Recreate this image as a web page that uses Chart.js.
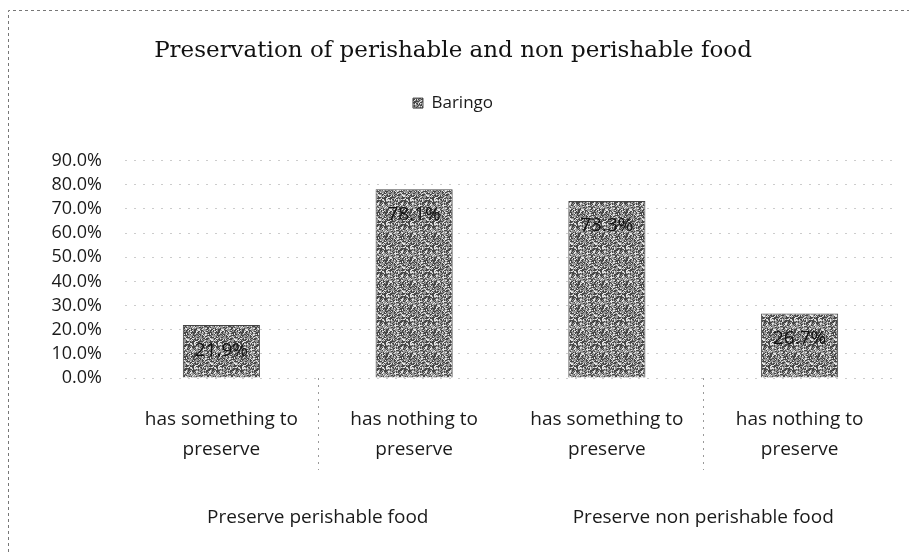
<!DOCTYPE html>
<html>
<head>
<meta charset="utf-8">
<script src="https://cdn.jsdelivr.net/npm/chart.js@4.4.1/dist/chart.umd.min.js"></script>
<style>
  html, body { margin: 0; padding: 0; background: #fff; }
  #wrap { width: 909px; height: 552px; position: relative; }
</style>
</head>
<body>
<div id="wrap"><canvas id="foodChart" width="909" height="552"></canvas></div>
<script>
// chart data
const categories = [
    ['has something to', 'preserve'],
    ['has nothing to', 'preserve'],
    ['has something to', 'preserve'],
    ['has nothing to', 'preserve']
];
const groups = ['Preserve perishable food', 'Preserve non perishable food'];
const groupSpan = [[0, 1], [2, 3]];          // first and last category index of each group
const baringo = [21.9, 78.1, 73.3, 26.7];      // percent
const yTicks = [0, 10, 20, 30, 40, 50, 60, 70, 80, 90];

const labelFont = '"Open Sans", "Liberation Sans", sans-serif';

// speckled grey fill for the bars
function makeSpeckle() {
    const c = document.createElement('canvas');
    c.width = 24; c.height = 24;
    const g = c.getContext('2d');
    const img = g.createImageData(24, 24);
    for (let y = 0; y < 24; y++) {
        for (let x = 0; x < 24; x++) {
            const h = Math.abs(Math.sin(x * 12.9898 + y * 78.233) * 43758.5453) % 1;
            let v = 150;
            if (h < 0.34) v = 70;
            else if (h > 0.76) v = 228;
            const i = (y * 24 + x) * 4;
            img.data[i] = img.data[i + 1] = img.data[i + 2] = v;
            img.data[i + 3] = 255;
        }
    }
    g.putImageData(img, 0, 0);
    return g.createPattern(c, 'repeat');
}

// extra room under the legend before the plot starts
const legendSpace = {
    id: 'legendSpace',
    afterInit(chart) {
        const legend = chart.legend;
        if (!legend) return;
        const fit = legend.fit;
        legend.fit = function () {
            fit.call(this);
            this.height += 39;
        };
    }
};

// value labels inside the top of each bar
const valueLabels = {
    id: 'valueLabels',
    afterDatasetsDraw(chart) {
        const ctx = chart.ctx;
        const meta = chart.getDatasetMeta(0);
        ctx.save();
        ctx.font = '19px ' + labelFont;
        ctx.fillStyle = '#111';
        ctx.textAlign = 'center';
        ctx.textBaseline = 'middle';
        meta.data.forEach((bar, i) => {
            ctx.fillText(baringo[i].toFixed(1) + '%', bar.x, bar.y + 25);
        });
        ctx.restore();
    }
};

// second level of the category axis plus the dotted separators
const groupAxis = {
    id: 'groupAxis',
    afterDraw(chart) {
        const ctx = chart.ctx;
        const x = chart.scales.x;
        const bottom = chart.chartArea.bottom;
        ctx.save();
        ctx.font = '19px ' + labelFont;
        ctx.fillStyle = '#1a1a1a';
        ctx.textAlign = 'center';
        ctx.textBaseline = 'middle';
        groups.forEach((name, gi) => {
            const [a, b] = groupSpan[gi];
            const cx = (x.getPixelForValue(a) + x.getPixelForValue(b)) / 2;
            ctx.fillText(name, cx, bottom + 140);
        });
        ctx.strokeStyle = '#9a9a9a';
        ctx.lineWidth = 1;
        ctx.setLineDash([2, 5]);
        groupSpan.forEach(([a, b]) => {
            const sx = Math.round((x.getPixelForValue(a) + x.getPixelForValue(b)) / 2) + 0.5;
            ctx.beginPath();
            ctx.moveTo(sx, bottom);
            ctx.lineTo(sx, bottom + 92);
            ctx.stroke();
        });
        // faint dotted frame along top and left edge
        ctx.strokeStyle = '#777';
        ctx.setLineDash([3, 3]);
        ctx.beginPath();
        ctx.moveTo(8.5, 552);
        ctx.lineTo(8.5, 10.5);
        ctx.lineTo(909, 10.5);
        ctx.stroke();
        ctx.restore();
    }
};

const ctx = document.getElementById('foodChart').getContext('2d');
const speckle = makeSpeckle();

new Chart(ctx, {
    type: 'bar',
    data: {
        labels: categories,
        datasets: [{
            label: 'Baringo',
            data: baringo,
            backgroundColor: speckle,
            borderColor: '#444',
            borderWidth: 1,
            categoryPercentage: 1,
            barPercentage: 0.4
        }]
    },
    options: {
        responsive: false,
        animation: false,
        layout: { padding: { left: 10, right: 13, top: 0, bottom: 0 } },
        plugins: {
            title: {
                display: true,
                text: 'Preservation of perishable and non perishable food',
                font: { family: '"DejaVu Serif", "Liberation Serif", serif', size: 23, weight: 'normal' },
                color: '#111',
                padding: { top: 37, bottom: 18 }
            },
            legend: {
                display: true,
                labels: {
                    font: { family: labelFont, size: 17 },
                    color: '#1a1a1a',
                    boxWidth: 10,
                    boxHeight: 10,
                    padding: 12
                }
            },
            tooltip: { enabled: false }
        },
        scales: {
            x: {
                grid: { display: false },
                border: { display: false },
                ticks: {
                    font: { family: labelFont, size: 19, lineHeight: 1.55 },
                    color: '#1a1a1a',
                    padding: 19,
                    maxRotation: 0,
                    autoSkip: false
                },
                afterFit(s) { s.height = 174; }
            },
            y: {
                min: 0,
                max: 90,
                afterBuildTicks(s) { s.ticks = yTicks.map(v => ({ value: v })); },
                ticks: {
                    font: { family: labelFont, size: 18 },
                    color: '#1a1a1a',
                    padding: 23,
                    autoSkip: false,
                    callback: v => v.toFixed(1) + '%'
                },
                grid: {
                    color: '#cccccc',
                    drawTicks: false
                },
                border: { display: false, dash: [2, 7] },
                afterFit(s) { s.width = 115; }
            }
        }
    },
    plugins: [legendSpace, valueLabels, groupAxis]
});
</script>
</body>
</html>
